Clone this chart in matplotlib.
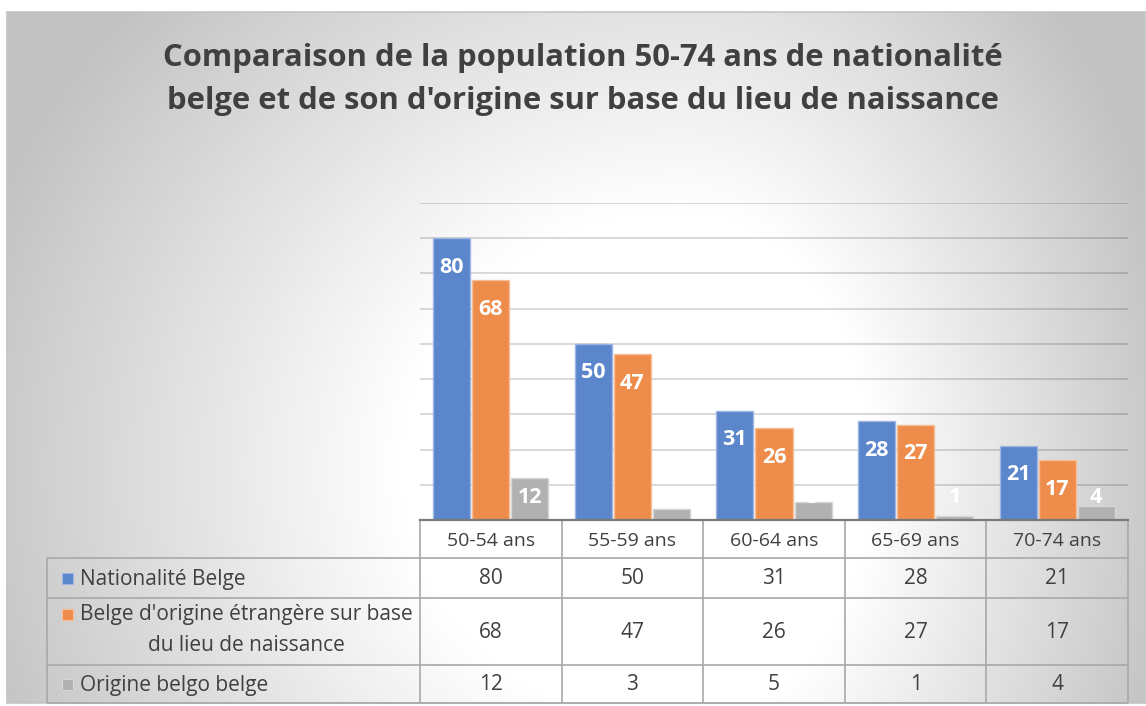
import numpy as np
import matplotlib.pyplot as plt
from matplotlib.patches import Rectangle

# ---------------------------------------------------------------
# Data
# ---------------------------------------------------------------
categories = ["50-54 ans", "55-59 ans", "60-64 ans", "65-69 ans", "70-74 ans"]
series_names = ["Nationalité Belge",
                "Belge d'origine étrangère sur base\ndu lieu de naissance",
                "Origine belgo belge"]
nationalite_belge = [80, 50, 31, 28, 21]
origine_etrangere = [68, 47, 26, 27, 17]
origine_belgo_belge = [12, 3, 5, 1, 4]
y_max = 90
y_step = 10

title_lines = ["Comparaison de la population 50-74 ans de nationalité",
               "belge et de son d'origine sur base du lieu de naissance"]

colors = ["#5b86cc", "#ee8d4b", "#b1b1b1"]
edge_colors = ["#9db5e3", "#f6bd96", "#d6d6d6"]
text_color = "#404040"
table_line = "#a8a8a8"

plt.rcParams['font.family'] = ['Open Sans', 'DejaVu Sans']

W, H = 1146, 706
fig = plt.figure(figsize=(W / 100, H / 100), dpi=100)


def frac(x0, y0, x1, y1):
    # pixel box (top-left origin) -> figure fraction [left, bottom, w, h]
    return [x0 / W, 1 - y1 / H, (x1 - x0) / W, (y1 - y0) / H]


# ---------------------------------------------------------------
# Background (radial grey gradient inside the chart frame)
# ---------------------------------------------------------------
bg = fig.add_axes([0, 0, 1, 1])
bg.set_xlim(0, W)
bg.set_ylim(H, 0)
bg.axis("off")

fx0, fy0, fx1, fy1 = 7, 12, 1145, 703
gx = np.linspace(fx0, fx1, 500)
gy = np.linspace(fy0, fy1, 320)
X, Y = np.meshgrid(gx, gy)
cx0, cy0 = 680, 470
rx = np.where(X < cx0, 700, 480)
t = np.sqrt(((X - cx0) / rx) ** 2 + ((Y - cy0) / 650) ** 2)
val = 255 - 55 * np.clip((t - 0.4) / 0.6, 0, 1.1)
img = np.dstack([val, val, val]) / 255.0
bg.imshow(img, extent=[fx0, fx1, fy1, fy0], aspect="auto", zorder=0,
          interpolation="bilinear")
bg.add_patch(Rectangle((fx0, fy0), fx1 - fx0, fy1 - fy0, fill=False,
                       edgecolor="#c4c4c4", lw=1.2, zorder=1))

# title
bg.text(583, 58, title_lines[0], ha="center", va="center", fontsize=22.3,
        fontweight="bold", color=text_color, zorder=3)
bg.text(583, 101, title_lines[1], ha="center", va="center", fontsize=22.3,
        fontweight="bold", color=text_color, zorder=3)

# ---------------------------------------------------------------
# Bars
# ---------------------------------------------------------------
plot_left, plot_right, plot_top, plot_bottom = 420, 1128, 203, 520
ax = fig.add_axes(frac(plot_left, plot_top, plot_right, plot_bottom))
ax.patch.set_alpha(0)
ax.set_xlim(-0.5, len(categories) - 0.5)
ax.set_ylim(0, y_max)
for s in ax.spines.values():
    s.set_visible(False)
ax.set_xticks([])
ax.set_yticks([])
for g in range(y_step, y_max + 1, y_step):
    ax.axhline(g, color="black", alpha=0.15, lw=1.4, zorder=0)

series = [nationalite_belge, origine_etrangere, origine_belgo_belge]
x = np.arange(len(categories))
bar_w = 0.262
step = 0.276
for k, vals in enumerate(series):
    xs = x + (k - 1) * step
    ax.bar(xs, vals, width=bar_w, color=colors[k], edgecolor=edge_colors[k],
           lw=1.0, zorder=2)
    for xi, v in zip(xs, vals):
        ly = max(v - 8.2, 6.5)
        ax.text(xi, ly, str(v), ha="center", va="center", fontsize=15.5,
                fontweight="bold", color="white", zorder=3)
ax.axhline(0, color="#7a7a7a", lw=1.6, zorder=4, clip_on=False)

# ---------------------------------------------------------------
# Data table
# ---------------------------------------------------------------
col_w = (plot_right - plot_left) / len(categories)
col_edges = [plot_left + i * col_w for i in range(len(categories) + 1)]
row_edges = [520, 558, 598, 665, 703]
label_left = 47

bg.hlines(row_edges[0], plot_left, plot_right, color=table_line, lw=1.2, zorder=2)
for yy in row_edges[1:]:
    bg.hlines(yy, label_left, plot_right, color=table_line, lw=1.2, zorder=2)
for xx in col_edges:
    bg.vlines(xx, row_edges[0], row_edges[-1], color=table_line, lw=1.2, zorder=2)
bg.vlines(label_left, row_edges[1], row_edges[-1], color=table_line, lw=1.2, zorder=2)

for i, cat in enumerate(categories):
    cx = plot_left + (i + 0.5) * col_w
    bg.text(cx, (row_edges[0] + row_edges[1]) / 2 + 2, cat, ha="center",
            va="center", fontsize=14, color=text_color, zorder=3)
    for k, vals in enumerate(series):
        cy = (row_edges[k + 1] + row_edges[k + 2]) / 2 + 1
        bg.text(cx, cy, str(vals[i]), ha="center", va="center",
                fontsize=15, color=text_color, zorder=3)

for k, name in enumerate(series_names):
    cy = (row_edges[k + 1] + row_edges[k + 2]) / 2
    if "\n" in name:
        first, second = name.split("\n")
        y1 = cy - 18
        bg.add_patch(Rectangle((62, y1 - 5), 11, 11, facecolor=colors[k],
                               edgecolor=edge_colors[k], lw=0.8, zorder=3))
        bg.text(246, y1 + 1, first, ha="center", va="center", fontsize=15,
                color=text_color, zorder=3)
        bg.text(246, cy + 14, second, ha="center", va="center", fontsize=15,
                color=text_color, zorder=3)
    else:
        bg.add_patch(Rectangle((62, cy - 5), 11, 11, facecolor=colors[k],
                               edgecolor=edge_colors[k], lw=0.8, zorder=3))
        bg.text(80, cy + 1, name, ha="left", va="center", fontsize=15,
                color=text_color, zorder=3)

fig.savefig("out.png", dpi=100)
